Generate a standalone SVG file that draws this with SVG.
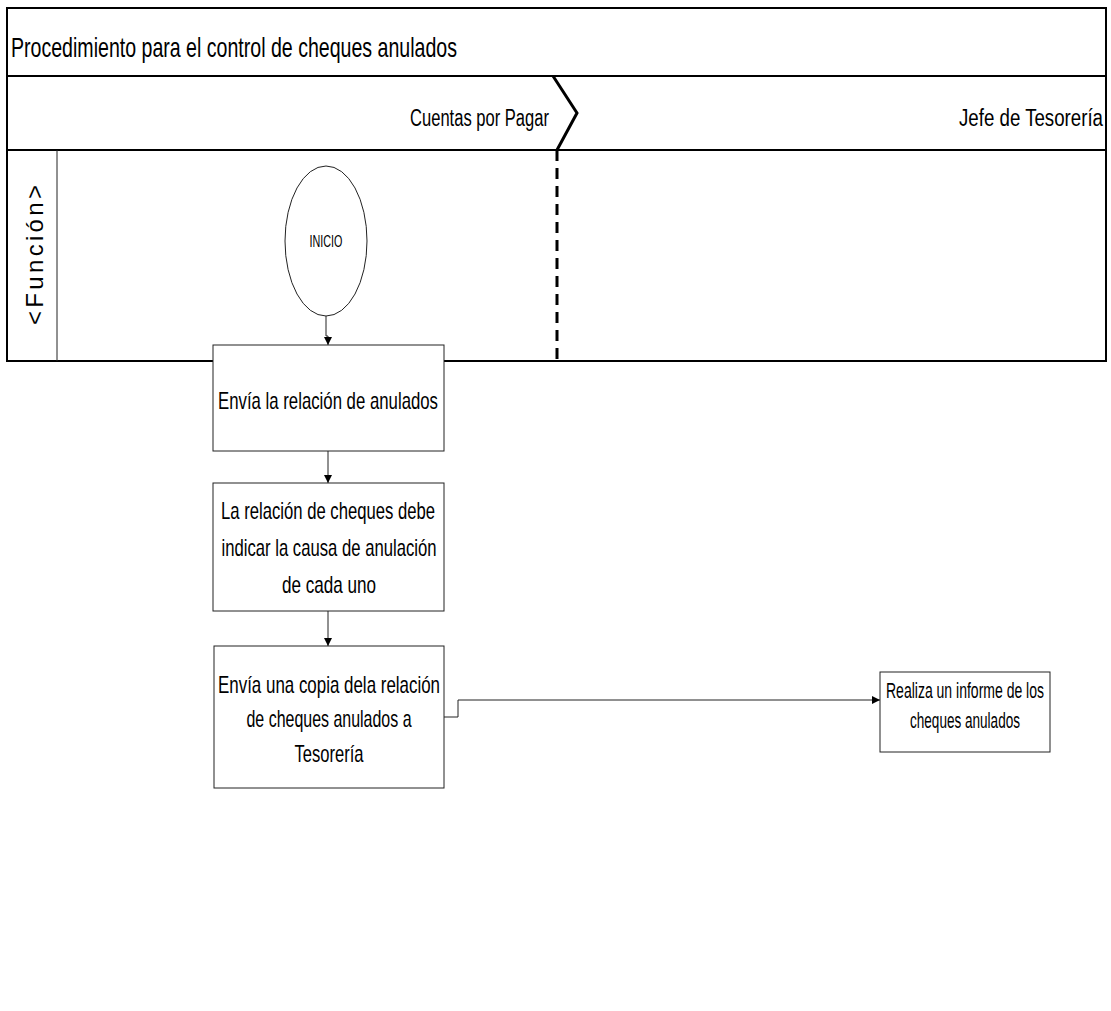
<svg xmlns="http://www.w3.org/2000/svg" width="1111" height="1011" viewBox="0 0 1111 1011">
  <style>
    .frame { fill: none; stroke: #000; stroke-width: 2; }
    .box { fill: #fff; stroke: #222; stroke-width: 1; }
    .conn { fill: none; stroke: #222; stroke-width: 1; }
    .t { font-family: "Liberation Sans Narrow", "Liberation Sans", Arial, sans-serif; fill: #000; }
    .lbl { font-size: 24px; text-anchor: middle; }
  </style>
  <defs>
    <marker id="arrow" viewBox="0 0 10 10" refX="10" refY="5" markerWidth="8" markerHeight="8" markerUnits="userSpaceOnUse" orient="auto">
      <path d="M0,0 L10,5 L0,10 Z" fill="#000"/>
    </marker>
  </defs>
  <rect width="1111" height="1011" fill="#fff"/>

  <!-- swimlane pool -->
  <g id="pool">
    <rect class="frame" x="7" y="8" width="1099" height="353"/>
    <line class="frame" x1="7" y1="76" x2="1106" y2="76"/>
    <line class="frame" x1="7" y1="150" x2="1106" y2="150"/>
    <line x1="57" y1="150" x2="57" y2="361" stroke="#222" stroke-width="1"/>
    <polyline points="553,76 577,113 557,150" fill="none" stroke="#000" stroke-width="3"/>
    <line x1="557" y1="150" x2="557" y2="366" stroke="#000" stroke-width="3" stroke-dasharray="11 7"/>
    <text class="t" x="11" y="57" font-size="28" textLength="446" lengthAdjust="spacingAndGlyphs">Procedimiento para el control de cheques anulados</text>
    <text class="t" x="549" y="126" font-size="23" text-anchor="end" textLength="139" lengthAdjust="spacingAndGlyphs">Cuentas por Pagar</text>
    <text class="t" x="1103" y="126" font-size="23" text-anchor="end" textLength="144" lengthAdjust="spacingAndGlyphs">Jefe de Tesorería</text>
    <text transform="translate(43,255) rotate(-90)" font-family="Liberation Sans, Arial, sans-serif" font-size="24" text-anchor="middle" textLength="140" lengthAdjust="spacing">&lt;Función&gt;</text>
  </g>

  <!-- connectors -->
  <g id="connectors">
    <path class="conn" d="M326,316 V336 H328 V345" marker-end="url(#arrow)"/>
    <path class="conn" d="M328,451 V483" marker-end="url(#arrow)"/>
    <path class="conn" d="M328,611 V646" marker-end="url(#arrow)"/>
    <path class="conn" d="M444,717 H458 V700 H880" marker-end="url(#arrow)"/>
  </g>

  <g id="inicio">
    <ellipse class="box" cx="326" cy="241" rx="41" ry="75"/>
    <text class="t" x="326" y="247" font-size="16" text-anchor="middle" textLength="33" lengthAdjust="spacingAndGlyphs">INICIO</text>
  </g>

  <g id="envia-relacion">
    <rect class="box" x="213" y="345" width="231" height="106"/>
    <text class="t lbl" x="328" y="409" textLength="220" lengthAdjust="spacingAndGlyphs">Envía la relación de anulados</text>
  </g>

  <g id="indicar-causa">
    <rect class="box" x="213" y="483" width="231" height="128"/>
    <text class="t lbl" x="328" y="519" textLength="214" lengthAdjust="spacingAndGlyphs">La relación de cheques debe</text>
    <text class="t lbl" x="329" y="556" textLength="215" lengthAdjust="spacingAndGlyphs">indicar la causa de anulación</text>
    <text class="t lbl" x="329" y="593" textLength="94" lengthAdjust="spacingAndGlyphs">de cada uno</text>
  </g>

  <g id="envia-copia">
    <rect class="box" x="214" y="646" width="230" height="142"/>
    <text class="t lbl" x="329" y="693" textLength="222" lengthAdjust="spacingAndGlyphs">Envía una copia dela relación</text>
    <text class="t lbl" x="329" y="727" textLength="165" lengthAdjust="spacingAndGlyphs">de cheques anulados a</text>
    <text class="t lbl" x="329" y="762" textLength="69" lengthAdjust="spacingAndGlyphs">Tesorería</text>
  </g>

  <g id="informe">
    <rect class="box" x="880" y="672" width="170" height="80"/>
    <text class="t" x="965" y="698" font-size="22" text-anchor="middle" textLength="158" lengthAdjust="spacingAndGlyphs">Realiza un informe de los</text>
    <text class="t" x="965" y="728" font-size="22" text-anchor="middle" textLength="110" lengthAdjust="spacingAndGlyphs">cheques anulados</text>
  </g>
</svg>
